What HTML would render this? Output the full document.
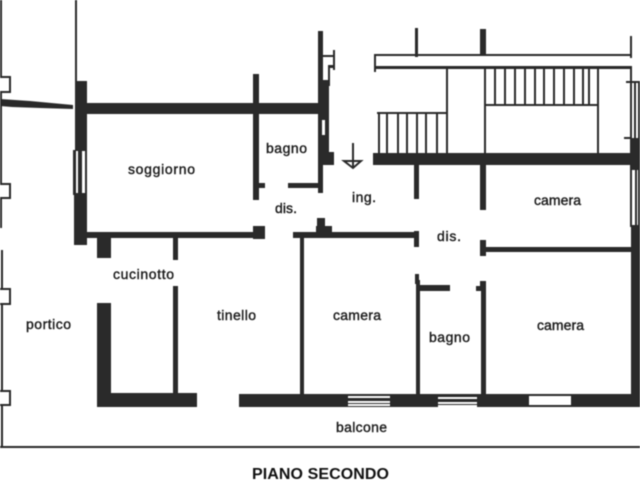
<!DOCTYPE html>
<html><head><meta charset="utf-8"><style>
html,body{margin:0;padding:0;background:#fff;width:640px;height:480px;overflow:hidden}
svg{display:block;filter:blur(.4px)}
text{font-family:"Liberation Sans",sans-serif;font-size:14px;fill:#1c1c1c;stroke:#1c1c1c;stroke-width:.4}
</style></head><body>
<svg width="640" height="480" viewBox="0 0 640 480" xmlns="http://www.w3.org/2000/svg">
<rect width="640" height="480" fill="#fff"/>
<g fill="#2a2a2a">
<!-- left edge -->
<rect x="0" y="0" width="2" height="228"/>
<rect x="1" y="250" width="2" height="198"/>
<path d="M0 99L30 101L73 105V109L40 108L12 107L0 106Z"/>
<!-- top-left line and soggiorno block -->
<rect x="75" y="0" width="2" height="82"/>
<rect x="75" y="81" width="12" height="70"/>
<rect x="74" y="193" width="13" height="52"/>
<rect x="73" y="150" width="3" height="45"/><rect x="78" y="150" width="4" height="45"/><rect x="85" y="150" width="2" height="45"/>
<rect x="87" y="103" width="232" height="11"/>
<rect x="87" y="232" width="166" height="6"/>
<rect x="97" y="237" width="14" height="21"/><rect x="97" y="232" width="14" height="6"/>
<rect x="173" y="237" width="5" height="23"/>
<!-- bagno top -->
<rect x="253" y="74" width="6" height="126"/>
<rect x="258" y="183" width="7" height="5"/>
<rect x="288" y="183" width="32" height="5"/>
<rect x="253" y="226" width="12" height="13"/>
<rect x="318" y="31" width="5" height="162"/>
<rect x="321" y="55" width="12" height="2"/>
<rect x="333" y="50" width="2" height="20"/>
<rect x="328" y="65" width="5" height="3"/>
<rect x="328" y="66" width="2" height="20"/>
<rect x="320" y="80" width="9" height="72"/>
<rect x="320" y="152" width="14" height="13"/>
<!-- central walls -->
<rect x="293" y="232" width="125" height="6"/>
<rect x="316" y="226" width="16" height="7"/><rect x="317" y="218" width="8" height="9"/>
<rect x="300" y="238" width="4" height="157"/>
<rect x="414" y="231" width="5" height="16"/>
<rect x="414" y="165" width="5" height="34"/>
<rect x="480" y="165" width="6" height="45"/>
<rect x="480" y="240" width="6" height="16"/>
<rect x="484" y="247" width="148" height="5"/>
<!-- stair block -->
<rect x="374" y="54" width="256" height="2"/>
<rect x="374" y="54" width="2" height="18"/>
<rect x="374" y="66" width="258" height="3"/>
<rect x="415" y="28" width="3" height="29"/>
<rect x="480" y="29" width="6" height="26"/>
<rect x="630" y="36" width="2" height="22"/>
<rect x="446" y="68" width="2" height="86"/>
<rect x="484" y="68" width="2" height="86"/>
<rect x="597" y="68" width="2" height="86"/>
<rect x="486" y="104" width="113" height="2"/>
<rect x="377" y="112" width="70" height="2"/>
<rect x="373" y="153" width="262" height="12"/>
<g>
<rect x="494" y="68" width="2" height="37"/><rect x="504" y="68" width="2" height="37"/><rect x="514" y="68" width="2" height="37"/><rect x="524" y="68" width="2" height="37"/><rect x="534" y="68" width="2" height="37"/><rect x="543" y="68" width="2" height="37"/><rect x="553" y="68" width="2" height="37"/><rect x="563" y="68" width="2" height="37"/><rect x="573" y="68" width="2" height="37"/><rect x="582" y="68" width="2" height="37"/><rect x="588" y="68" width="2" height="37"/>
<rect x="378" y="113" width="2" height="41"/><rect x="386" y="113" width="2" height="41"/><rect x="397" y="113" width="2" height="41"/><rect x="406" y="113" width="2" height="41"/><rect x="416" y="113" width="2" height="41"/><rect x="425" y="113" width="2" height="41"/><rect x="436" y="113" width="2" height="41"/>
</g>
<!-- right edge -->
<rect x="630" y="68" width="2" height="70"/>
<rect x="626" y="81" width="14" height="2"/>
<rect x="634" y="81" width="2" height="57"/><rect x="638" y="81" width="2" height="57"/>
<rect x="624" y="137" width="8" height="2"/>
<rect x="630" y="138" width="10" height="32"/>
<rect x="630" y="165" width="2" height="62"/><rect x="635" y="165" width="2" height="62"/><rect x="638" y="165" width="2" height="62"/>
<rect x="631" y="225" width="9" height="182"/>
<!-- lower rooms -->
<rect x="97" y="303" width="14" height="104"/>
<rect x="173" y="286" width="5" height="110"/>
<rect x="97" y="393" width="100" height="14"/>
<rect x="239" y="394" width="401" height="13"/>
<rect x="415" y="274" width="4" height="10"/>
<rect x="416" y="280" width="4" height="115"/>
<rect x="417" y="285" width="33" height="6"/>
<rect x="481" y="284" width="5" height="112"/>
<rect x="476" y="286" width="8" height="5"/>
<rect x="480" y="281" width="6" height="6"/>
<!-- balcony line -->
<rect x="0" y="446" width="640" height="2"/>
</g>
<!-- pilasters -->
<g fill="#fff" stroke="#2a2a2a" stroke-width="2">
<path d="M0 77H10V92H0"/><path d="M0 184H10V198H0"/><path d="M0 289H10V304H0"/><path d="M0 391H10V405H0"/>
</g>
<!-- windows -->
<rect x="322" y="120" width="3" height="15" fill="#fff"/>
<g fill="#fff">
<rect x="348" y="396" width="42" height="2"/><rect x="348" y="401" width="42" height="5"/>
<rect x="438" y="397" width="39" height="2"/><rect x="438" y="402" width="39" height="2"/><rect x="438" y="405" width="39" height="2"/>
<rect x="529" y="396" width="42" height="9"/>
</g>
<rect x="348" y="403" width="42" height="1" fill="#2a2a2a"/>
<!-- entrance arrow -->
<g fill="none" stroke="#2a2a2a" stroke-width="2">
<path d="M353 143V168"/><path d="M344 161H361L353 168Z"/>
</g>
<!-- labels -->
<text x="128" y="174" textLength="67" lengthAdjust="spacing">soggiorno</text>
<text x="266" y="153" textLength="41" lengthAdjust="spacing">bagno</text>
<text x="275" y="213" textLength="22" lengthAdjust="spacing">dis.</text>
<text x="352" y="202" textLength="24" lengthAdjust="spacing">ing.</text>
<text x="534" y="205" textLength="47" lengthAdjust="spacing">camera</text>
<text x="437" y="241" textLength="24" lengthAdjust="spacing">dis.</text>
<text x="113" y="279" textLength="61" lengthAdjust="spacing">cucinotto</text>
<text x="26" y="329" textLength="45" lengthAdjust="spacing">portico</text>
<text x="217" y="320" textLength="39" lengthAdjust="spacing">tinello</text>
<text x="333" y="320" textLength="48" lengthAdjust="spacing">camera</text>
<text x="429" y="342" textLength="41" lengthAdjust="spacing">bagno</text>
<text x="537" y="330" textLength="47" lengthAdjust="spacing">camera</text>
<text x="336" y="432" textLength="51" lengthAdjust="spacing">balcone</text>
<text x="252" y="479" textLength="137" lengthAdjust="spacing" style="font-size:16px;font-weight:bold;stroke:none;fill:#111">PIANO SECONDO</text>
</svg>
</body></html>
